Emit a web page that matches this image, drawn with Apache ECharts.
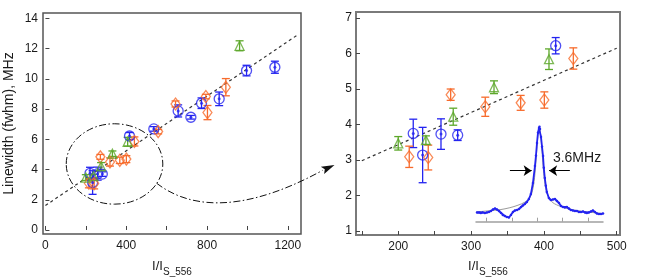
<!DOCTYPE html>
<html><head><meta charset="utf-8">
<script src="https://cdn.jsdelivr.net/npm/echarts@6/dist/echarts.min.js"></script>
<style>html,body{margin:0;padding:0;background:#fff}#c{width:654px;height:278px}</style>
</head><body><div id="c"></div>
<script>
// ---------- data ----------
const blueX   = [220.6, 233.5, 258.7, 281.6, 416.2, 536.5, 657, 720, 772.6, 860, 995.5, 1135.7];
const blueY   = [3.75, 3.14, 3.73, 3.70, 6.22, 6.69, 7.88, 7.46, 8.39, 8.68, 10.55, 10.77];
const blueErr = [0.40, 0.78, 0.43, 0.15, 0.23, 0.15, 0.40, 0.12, 0.35, 0.45, 0.35, 0.40];

const orangeX   = [215.1, 241.2, 272.0, 319.5, 368.1, 400.6, 440.4, 558, 644, 794, 802, 893];
const orangeY   = [3.09, 3.07, 4.84, 4.50, 4.61, 4.69, 5.86, 6.51, 8.34, 8.83, 7.77, 9.45];
const orangeErr = [0.30, 0.35, 0.16, 0.27, 0.21, 0.23, 0.30, 0.15, 0.20, 0.15, 0.47, 0.57];

const greenX   = [200.0, 238.0, 275.5, 331.5, 407.0, 961];
const greenY   = [3.47, 3.56, 4.22, 5.05, 5.84, 12.19];
const greenErr = [0.19, 0.12, 0.24, 0.18, 0.29, 0.33];

const fitLeftX  = [0, 1250];
const fitLeftY  = [1.62, 12.93];
const fitRightX = [150, 500];
const fitRightY = [2.98, 6.15];

// inset spectrum (detuning MHz, signal a.u.)
const specX = [-23.8,-23.0,-22.3,-21.5,-20.7,-19.9,-19.1,-18.3,-17.5,-16.7,-15.9,-15.1,-14.3,-13.6,-12.8,-12.0,-11.2,-10.4,-9.6,-8.8,-8.0,-7.2,-6.4,-5.7,-4.9,-4.1,-3.3,-2.5,-1.7,-0.9,-0.5,-0.1,0.3,0.7,0.9,1.1,1.5,1.9,2.3,2.6,3.0,3.4,3.8,4.6,5.4,6.2,7.0,7.8,8.6,9.4,10.2,10.9,11.7,12.5,13.3,14.1,14.9,15.7,16.5,17.3,18.1,18.9,19.6,20.4,21.2,22.0,22.8,23.6,24.4,25.2,26.0];
const specY = [9.2,9.2,8.7,9.2,8.7,9.2,9.7,10.7,12.2,13.2,12.2,10.7,8.7,6.7,5.7,4.7,4.2,6.7,9.7,11.2,11.7,12.7,14.7,16.2,17.7,19.7,22.7,27.7,38.7,55.7,66.0,78.7,89.0,93.7,95.0,92.7,84.7,75.0,65.7,54.0,43.7,36.0,29.7,23.7,21.7,22.2,22.7,20.7,18.7,15.7,14.7,14.2,14.7,13.2,11.7,11.2,10.7,10.7,9.7,9.7,10.2,9.2,8.7,9.2,10.2,11.2,9.7,8.2,7.7,7.7,8.2];
const fitSpecX = [-24.2,-18.7,-14.7,-10.8,-7.6,-4.9,-2.9,-1.7,-0.9,-0.1,0.5,0.8,1.3,1.9,2.6,3.4,4.6,6.2,9.0,12.9,18.9,26.0];
const fitSpecY = [9.7,11,12,14,16.5,19.5,24,33,48,75,92,95,88,70,48,33,24,19,15.5,12.5,10,8.2];
const halfMaxLevel = 51;
const arrowLeft  = [-10.8, -2.2];
const arrowRight = [12.9, 4.7];
const widthLabel = '3.6MHz';

const leftXTicks  = [0, 200, 400, 600, 800, 1000, 1200];
const leftXLabels = [0, 400, 800, 1200];
const leftYTicks  = [0, 2, 4, 6, 8, 10, 12, 14];
const rightXTicks  = [150, 200, 250, 300, 350, 400, 450, 500];
const rightXLabels = [200, 300, 400, 500];
const rightYTicks  = [1, 2, 3, 4, 5, 6, 7];
const insetTicks   = [-20, -10, 0, 10, 20];

// ---------- styling ----------
const FONT = 'Liberation Sans, Arial, sans-serif';
const BLUE = '#2424f0', ORANGE = '#f76b2c', GREEN = '#5da82a';
const zip3 = (a, b, c) => a.map((v, i) => [v, b[i], c[i]]);
const zip2 = (a, b) => a.map((v, i) => [v, b[i]]);
const plain = v => String(v);

function errRender(color) {
  return function (params, api) {
    const x = api.value(0), y = api.value(1), e = api.value(2);
    const t = api.coord([x, y + e]), b = api.coord([x, y - e]);
    const hw = 4;
    const style = { stroke: color, lineWidth: 1.3, fill: null };
    return { type: 'group', children: [
      { type: 'line', shape: { x1: t[0], y1: t[1], x2: b[0], y2: b[1] }, style },
      { type: 'line', shape: { x1: t[0] - hw, y1: t[1], x2: t[0] + hw, y2: t[1] }, style },
      { type: 'line', shape: { x1: b[0] - hw, y1: b[1], x2: b[0] + hw, y2: b[1] }, style }
    ]};
  };
}

function panelSeries(ai) {
  const s = [];
  const groups = [
    [blueX, blueY, blueErr, BLUE, 'circle', 10],
    [orangeX, orangeY, orangeErr, ORANGE, 'diamond', [9, 12]],
    [greenX, greenY, greenErr, GREEN, 'triangle', 9]
  ];
  groups.forEach(([gx, gy, ge, col, sym, size]) => {
    s.push({ type: 'custom', xAxisIndex: ai, yAxisIndex: ai, renderItem: errRender(col),
      data: zip3(gx, gy, ge), clip: true, z: 3, silent: true });
    s.push({ type: 'scatter', xAxisIndex: ai, yAxisIndex: ai, symbol: sym, symbolSize: size,
      data: zip2(gx, gy), itemStyle: { color: 'rgba(0,0,0,0)', borderColor: col, borderWidth: 1.3 }, z: 4, silent: true });
  });
  s.push({ type: 'scatter', xAxisIndex: ai, yAxisIndex: ai, symbol: 'circle', symbolSize: 3,
    data: zip2(blueX, blueY), itemStyle: { color: BLUE }, z: 4, silent: true });
  return s;
}

const axisText = { color: '#1a1a1a', fontSize: 12, fontFamily: FONT, formatter: plain };
const subName = {
  color: '#1a1a1a', fontFamily: FONT, fontSize: 13,
  rich: {
    m: { fontSize: 13, fontFamily: FONT, color: '#1a1a1a', lineHeight: 22, verticalAlign: 'middle' },
    s: { fontSize: 10, fontFamily: FONT, color: '#1a1a1a', lineHeight: 10, verticalAlign: 'bottom' }
  }
};
const gridBase = { containLabel: false, outerBoundsMode: 'none' };

const chart = echarts.init(document.getElementById('c'), null, { renderer: 'canvas' });
const option = {
  animation: false,
  backgroundColor: '#fff',
  grid: [
    { ...gridBase, left: 43, top: 13, width: 258, height: 221, show: true, borderColor: '#555', borderWidth: 1.5 },
    { ...gridBase, left: 356, top: 12, width: 264, height: 223, show: true, borderColor: '#7a7a7a', borderWidth: 2 },
    { ...gridBase, left: 476, top: 121.7, width: 127, height: 100, show: false }
  ],
  xAxis: [
    { type: 'value', gridIndex: 0, min: -12, max: 1265, splitLine: { show: false },
      axisLine: { show: false },
      axisTick: { show: true, inside: true, length: 4, customValues: leftXTicks, lineStyle: { color: '#444', width: 1 } },
      axisLabel: { customValues: leftXLabels, margin: 6, ...axisText },
      name: '{m|I/I}{s|S_556}', nameLocation: 'middle', nameGap: 21, nameTextStyle: subName },
    { type: 'value', gridIndex: 1, min: 142, max: 504.5, splitLine: { show: false },
      axisLine: { show: false },
      axisTick: { show: true, inside: true, length: 4, customValues: rightXTicks, lineStyle: { color: '#444', width: 1 } },
      axisLabel: { customValues: rightXLabels, margin: 6, ...axisText },
      name: '{m|I/I}{s|S_556}', nameLocation: 'middle', nameGap: 20, nameTextStyle: subName },
    { type: 'value', gridIndex: 2, min: -24.2, max: 26.0, splitLine: { show: false },
      axisLine: { show: true, lineStyle: { color: '#a0a0a0', width: 1.5 } },
      axisTick: { show: true, inside: true, length: 4, customValues: insetTicks, lineStyle: { color: '#a0a0a0', width: 1 } },
      axisLabel: { show: false } }
  ],
  yAxis: [
    { type: 'value', gridIndex: 0, min: -0.265, max: 14.36, splitLine: { show: false },
      axisLine: { show: false },
      axisTick: { show: true, inside: true, length: 4, customValues: leftYTicks, lineStyle: { color: '#444', width: 1 } },
      axisLabel: { customValues: leftYTicks, margin: 5, showMinLabel: true, ...axisText },
      name: 'Linewidth (fwhm), MHz', nameLocation: 'middle', nameGap: 27,
      nameTextStyle: { color: '#1a1a1a', fontSize: 14, fontFamily: FONT } },
    { type: 'value', gridIndex: 1, min: 0.887, max: 7.17, splitLine: { show: false },
      axisLine: { show: false },
      axisTick: { show: true, inside: true, length: 4, customValues: rightYTicks, lineStyle: { color: '#444', width: 1 } },
      axisLabel: { customValues: rightYTicks, margin: 4, ...axisText } },
    { type: 'value', gridIndex: 2, min: 0, max: 100, show: false }
  ],
  series: [
    { type: 'line', xAxisIndex: 0, yAxisIndex: 0, data: zip2(fitLeftX, fitLeftY), showSymbol: false, silent: true,
      lineStyle: { color: '#333', width: 1.2, type: [3, 3] }, z: 2 },
    { type: 'line', xAxisIndex: 1, yAxisIndex: 1, data: zip2(fitRightX, fitRightY), showSymbol: false, silent: true,
      lineStyle: { color: '#333', width: 1.2, type: [3, 3] }, z: 2 },
    ...panelSeries(0),
    ...panelSeries(1),
    { type: 'line', xAxisIndex: 2, yAxisIndex: 2, data: zip2(fitSpecX, fitSpecY), showSymbol: false, silent: true,
      smooth: 0.3, lineStyle: { color: '#9a9a9a', width: 1 }, z: 2,
      markLine: { silent: true, symbol: ['none', 'arrow'], symbolSize: 8, animation: false,
        lineStyle: { color: '#000', type: 'solid', width: 1 }, label: { show: false },
        data: [
          [{ coord: [arrowLeft[0], halfMaxLevel] }, { coord: [arrowLeft[1], halfMaxLevel] }],
          [{ coord: [arrowRight[0], halfMaxLevel] }, { coord: [arrowRight[1], halfMaxLevel] }]
        ] } },
    { type: 'line', xAxisIndex: 2, yAxisIndex: 2, data: zip2(specX, specY), silent: true,
      showSymbol: true, symbol: 'circle', symbolSize: 2.5, itemStyle: { color: BLUE },
      lineStyle: { color: BLUE, width: 1.8 }, z: 3 }
  ]
};
chart.setOption(option);

// annotations: ellipse (left panel data coords), curved dash-dot arrow, inset label
const ellCenter = chart.convertToPixel({ gridIndex: 0 }, [342, 4.37]);
const ellEdge = chart.convertToPixel({ gridIndex: 0 }, [342 + 239, 4.37 + 2.66]);
const labelPos = chart.convertToPixel({ gridIndex: 2 }, [6.2, 63.4]);
const dashDot = [7, 2.5, 1.5, 2.5];
const tipX = 334.5, tipY = 165, baseX = 322.5, baseY = 170.4;
const ang = Math.atan2(tipY - baseY, tipX - baseX);
const nx = -Math.sin(ang) * 4, ny = Math.cos(ang) * 4;
chart.setOption({
  graphic: [
    { type: 'ellipse', z: 10, silent: true,
      shape: { cx: ellCenter[0], cy: ellCenter[1], rx: ellEdge[0] - ellCenter[0], ry: ellCenter[1] - ellEdge[1] },
      style: { fill: null, stroke: '#111', lineWidth: 1, lineDash: dashDot } },
    { type: 'bezierCurve', z: 10, silent: true,
      shape: { x1: 156.7, y1: 183.3, cpx1: 185, cpy1: 205, cpx2: 235, cpy2: 218, x2: baseX, y2: baseY },
      style: { fill: null, stroke: '#111', lineWidth: 1, lineDash: dashDot } },
    { type: 'polygon', z: 10, silent: true,
      shape: { points: [[tipX, tipY], [baseX + nx, baseY + ny], [baseX + 2.5 * Math.cos(ang), baseY + 2.5 * Math.sin(ang)], [baseX - nx, baseY - ny]] },
      style: { fill: '#111' } },
    { type: 'text', z: 10, silent: true, x: labelPos[0], y: labelPos[1],
      style: { text: widthLabel, fill: '#1a1a1a', font: '14px ' + FONT, textAlign: 'left', textVerticalAlign: 'middle' } }
  ]
});
</script>
</body></html>
